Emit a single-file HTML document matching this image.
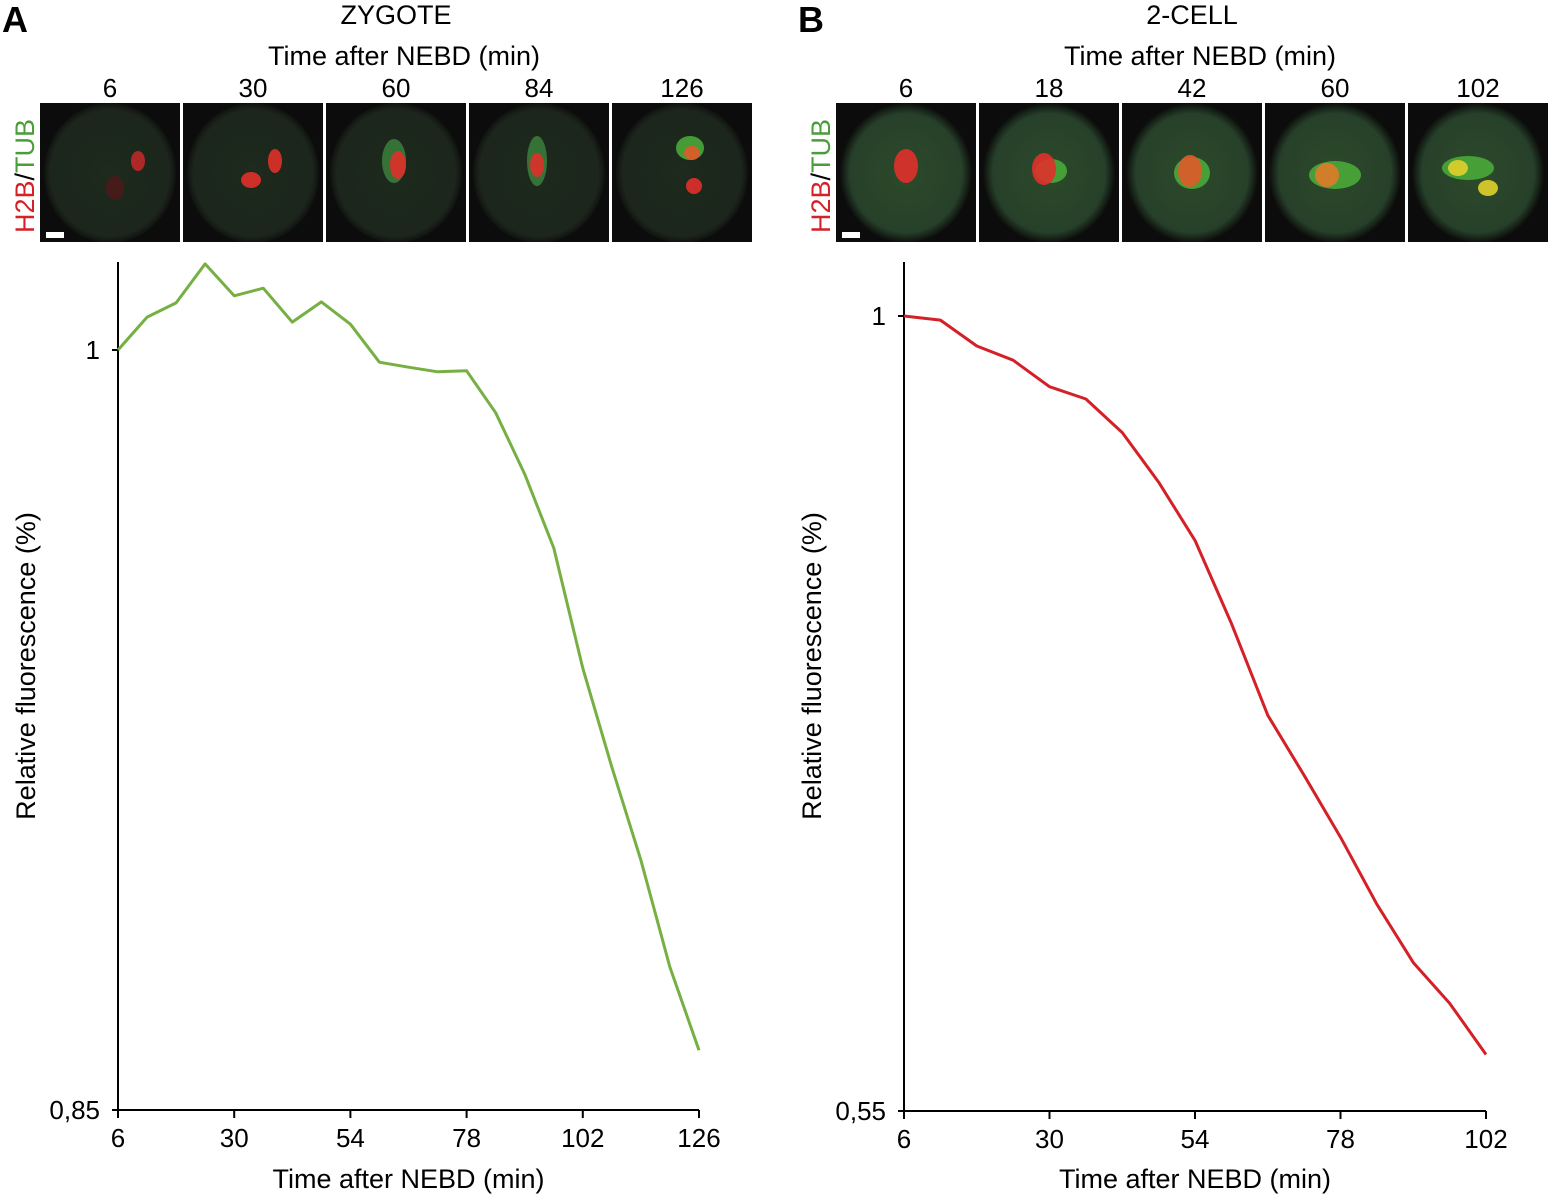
<!DOCTYPE html>
<html><head><meta charset="utf-8"><style>
body{margin:0;background:#fff;}
svg text{font-family:"Liberation Sans",sans-serif;}
</style></head><body>
<svg id="fig" width="1552" height="1198" viewBox="0 0 1552 1198" xmlns="http://www.w3.org/2000/svg">
<defs>
<radialGradient id="cellA" cx="50%" cy="50%" r="50%"><stop offset="0" stop-color="#1e2a1e"/><stop offset="0.9" stop-color="#1c261c"/><stop offset="1" stop-color="#101210"/></radialGradient>
<radialGradient id="cellB" cx="50%" cy="50%" r="50%"><stop offset="0" stop-color="#2c4a2a"/><stop offset="0.85" stop-color="#27402a"/><stop offset="1" stop-color="#0c0e0c"/></radialGradient>
</defs>
<g id="panels"></g>
<g id="chartA"></g>
<g id="chartB"></g>
</svg>
<script>
const xA = [6,12,18,24,30,36,42,48,54,60,66,72,78,84,90,96,102,108,114,120,126];
const yA = [1.000,1.0065,1.0093,1.017,1.0107,1.0122,1.0055,1.0095,1.0051,0.9976,0.9966,0.9957,0.9959,0.9876,0.9755,0.9609,0.9372,0.9177,0.8993,0.8782,0.8618];
const xB = [6,12,18,24,30,36,42,48,54,60,66,72,78,84,90,96,102];
const yB = [1.0,0.9977,0.983,0.975,0.960,0.953,0.934,0.906,0.873,0.826,0.774,0.740,0.705,0.667,0.634,0.611,0.582];
const xTicksA = [6,30,54,78,102,126];
const xTicksB = [6,30,54,78,102];
const yTicksA = [1,0.85];
const yTicksB = [1,0.55];
const yLabelsA = ["1","0,85"];
const yLabelsB = ["1","0,55"];
const imgTimesA = ["6","30","60","84","126"];
const imgTimesB = ["6","18","42","60","102"];

const NS="http://www.w3.org/2000/svg";
function mk(parent,tag,attrs,text){const e=document.createElementNS(NS,tag);for(const k in attrs)e.setAttribute(k,attrs[k]);if(text!==undefined)e.textContent=text;parent.appendChild(e);return e;}

function chart(g,cfg){
  const sx=v=>cfg.x0+(v-cfg.xmin)/(cfg.xmax-cfg.xmin)*(cfg.x1-cfg.x0);
  const sy=v=>cfg.yTop+(cfg.ymaxRef-v)/(cfg.ymaxRef-cfg.ymin)*(cfg.yBot-cfg.yTop);
  const ya=mk(g,'line',{x1:cfg.x0,x2:cfg.x0,y1:cfg.axTop,y2:cfg.yBot,stroke:'#000','stroke-width':2});
  
  
  const xa=mk(g,'line',{x1:cfg.x0,x2:cfg.x1,y1:cfg.yBot,y2:cfg.yBot,stroke:'#000','stroke-width':2});
  
  
  cfg.xt.forEach(t=>{
    const l=mk(g,'line',{x1:sx(t),x2:sx(t),y1:cfg.yBot,y2:cfg.yBot+8,stroke:'#000','stroke-width':2});
    
    
    const tx=mk(g,'text',{x:sx(t),y:cfg.yBot+37,'text-anchor':'middle','font-size':26},String(t));
    
    
  });
  cfg.yt.forEach((t,i)=>{
    const l=mk(g,'line',{x1:cfg.x0-6,x2:cfg.x0,y1:sy(t),y2:sy(t),stroke:'#000','stroke-width':2});
    
    
    const tx=mk(g,'text',{x:cfg.x0-18,y:sy(t)+9,'text-anchor':'end','font-size':26},cfg.yl[i]);
    
    
  });
  const xt=mk(g,'text',{x:(cfg.x0+cfg.x1)/2,y:1188,'text-anchor':'middle','font-size':27},'Time after NEBD (min)');
  
  
  const yt=mk(g,'text',{x:0,y:0,'text-anchor':'middle','font-size':27,transform:`translate(${cfg.x0-83},666) rotate(-90)`},'Relative fluorescence (%)');
  
  
  const pts=cfg.xs.map((x,i)=>sx(x).toFixed(1)+','+sy(cfg.ys[i]).toFixed(1)).join(' ');
  const p=mk(g,'polyline',{points:pts,fill:'none',stroke:cfg.color,'stroke-width':3,'stroke-linejoin':'round'});
  
  
}
chart(document.getElementById('chartA'),{x0:118,x1:699,xmin:6,xmax:126,yTop:350,yBot:1110,ymaxRef:1,ymin:0.85,axTop:262,xt:xTicksA,yt:yTicksA,yl:yLabelsA,xs:xA,ys:yA,color:'#76b043'});
chart(document.getElementById('chartB'),{x0:904,x1:1486,xmin:6,xmax:102,yTop:316,yBot:1111,ymaxRef:1,ymin:0.55,axTop:262,xt:xTicksB,yt:yTicksB,yl:yLabelsB,xs:xB,ys:yB,color:'#d42127'});

const pg=document.getElementById('panels');
const defs=document.querySelector('defs');
let cid=0;
function strip(x0,times,title,letter,grad,blobs){
  const L=mk(pg,'text',{x:x0-38,y:32,'font-size':36,'font-weight':'bold'},letter);
  
  
  const T=mk(pg,'text',{x:x0+356,y:24,'text-anchor':'middle','font-size':27},title);
  
  
  const S=mk(pg,'text',{x:x0+364,y:65,'text-anchor':'middle','font-size':27},'Time after NEBD (min)');
  
  
  const lab=mk(pg,'text',{x:0,y:0,'font-size':27,transform:`translate(${x0-6},233) rotate(-90)`});
  
  
  mk(lab,'tspan',{fill:'#d42127'},'H2B');mk(lab,'tspan',{fill:'#000'},'/');mk(lab,'tspan',{fill:'#4a9e3a'},'TUB');
  times.forEach((t,i)=>{
    const px=x0+i*143;
    const tl=mk(pg,'text',{x:px+70,y:97,'text-anchor':'middle','font-size':26},t);
    
    
    const id='clip'+(cid++);
    const cp=mk(defs,'clipPath',{id:id});
    mk(cp,'rect',{x:px,y:103,width:140,height:139});
    const g=mk(pg,'g',{'clip-path':'url(#'+id+')'});
    const r=mk(g,'rect',{x:px,y:103,width:140,height:139,fill:'#0b0c0b'});
    
    
    mk(g,'ellipse',{cx:px+70,cy:173,rx:66,ry:70,fill:'url(#'+grad+')'});
    blobs[i].forEach(b=>mk(g,'ellipse',{cx:px+b[0],cy:103+b[1],rx:b[2],ry:b[3],fill:b[4],opacity:0.9}));
  });
  mk(pg,'rect',{x:x0+6,y:232,width:18,height:6,fill:'#fff'});
}
strip(40,imgTimesA,'ZYGOTE','A','cellA',[
 [[98,58,7,10,'#c0282a'],[75,85,9,12,'#4a1a1a']],
 [[92,58,7,12,'#e0302a'],[68,77,10,8,'#e0302a']],
 [[68,58,12,22,'#3a7a3a'],[72,62,8,14,'#e0302a']],
 [[68,58,10,25,'#3a7a3a'],[68,62,7,12,'#e0302a']],
 [[78,45,14,12,'#4aa83a'],[80,50,8,7,'#e05a2a'],[82,83,8,8,'#e0302a']]
]);
strip(836,imgTimesB,'2-CELL','B','cellB',[
 [[70,63,12,17,'#e0302a']],
 [[72,68,16,12,'#4aa83a'],[65,66,12,16,'#e0302a']],
 [[70,70,18,16,'#4aa83a'],[68,68,12,16,'#e05a2a']],
 [[70,72,26,14,'#4aa83a'],[62,72,12,12,'#e07a2a']],
 [[60,65,26,12,'#4aa83a'],[50,65,10,8,'#e0d02a'],[80,85,10,8,'#e0d02a']]
]);
</script>
</body></html>
